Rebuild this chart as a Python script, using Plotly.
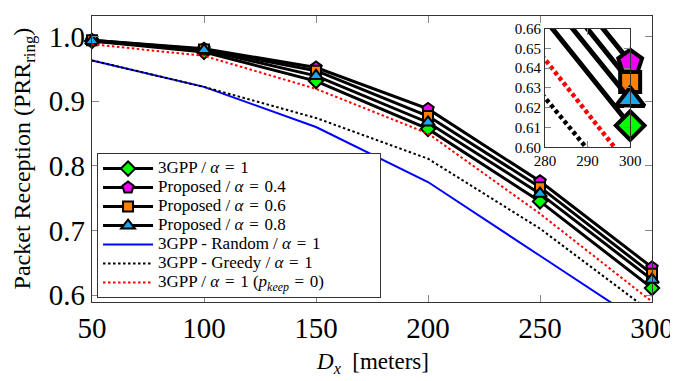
import plotly.graph_objects as go

# ---- data ----
dx = [50, 100, 150, 200, 250, 300]
gpp_a1 = [0.993, 0.976, 0.931, 0.857, 0.745, 0.611]
prop_04 = [0.994, 0.981, 0.952, 0.888, 0.776, 0.643]
prop_06 = [0.994, 0.980, 0.947, 0.877, 0.767, 0.633]
prop_08 = [0.993, 0.979, 0.939, 0.867, 0.757, 0.624]
gpp_random = [0.963, 0.922, 0.860, 0.775, 0.661, 0.547]
gpp_greedy = [0.963, 0.922, 0.874, 0.811, 0.703, 0.573]
gpp_pkeep0 = [0.988, 0.970, 0.919, 0.850, 0.726, 0.590]

SP = "\u2004"  # math-like spacing around '='
names = [
    f"3GPP / <i>α</i>{SP}={SP}1",
    f"Proposed / <i>α</i>{SP}={SP}0.4",
    f"Proposed / <i>α</i>{SP}={SP}0.6",
    f"Proposed / <i>α</i>{SP}={SP}0.8",
    f"3GPP - Random / <i>α</i>{SP}={SP}1",
    f"3GPP - Greedy / <i>α</i>{SP}={SP}1",
    f"3GPP / <i>α</i>{SP}={SP}1 (<i>p<sub>keep</sub></i>{SP}={SP}0)\u2003\u2003\u2003",
]

SERIF = "Liberation Serif"

marker_series = [
    (gpp_a1, names[0], "diamond", "#00FF00", 11, 22),
    (prop_04, names[1], "pentagon", "#F000F0", 12, 25),
    (prop_06, names[2], "square", "#FF8000", 10, 20),
    (prop_08, names[3], "triangle-up", "#1AA7EC", 12, 25),
]
line_series = [
    (gpp_random, names[4], "#0000FF", "solid"),
    (gpp_greedy, names[5], "#000000", "2.5px,2.5px"),
    (gpp_pkeep0, names[6], "#FF0000", "2.5px,2.5px"),
]


def big(t):
    return f'<span style="font-size:17px">{t}</span>'


fig = go.Figure()

# main plot
for ys, nm, sym, col, sz, _ in marker_series:
    fig.add_trace(go.Scatter(
        x=dx, y=ys, name=big(nm), mode="lines+markers",
        line=dict(color="black", width=3),
        marker=dict(symbol=sym, color=col, size=sz, line=dict(color="black", width=2)),
        cliponaxis=False, xaxis="x", yaxis="y"))
for ys, nm, col, dash in line_series:
    fig.add_trace(go.Scatter(
        x=dx, y=ys, name=big(nm), mode="lines",
        line=dict(color=col, width=2, dash=dash),
        xaxis="x", yaxis="y"))

# inset
for ys, nm, col, dash in line_series:
    fig.add_trace(go.Scatter(
        x=dx, y=ys, mode="lines", showlegend=False,
        line=dict(color=col, width=4.5, dash="4px,3px" if dash != "solid" else "solid"),
        xaxis="x2", yaxis="y2"))
for ys, nm, sym, col, _, szi in marker_series:
    fig.add_trace(go.Scatter(
        x=dx, y=ys, mode="lines+markers", showlegend=False,
        line=dict(color="black", width=5),
        marker=dict(symbol=sym, color=col, size=szi, line=dict(color="black", width=4)),
        cliponaxis=False, xaxis="x2", yaxis="y2"))

axis_common = dict(showline=True, linecolor="#333333", linewidth=1.2, mirror="ticks",
                   ticks="inside", tickcolor="#888888", showgrid=False, zeroline=False)

fig.update_layout(
    width=670, height=373,
    margin=dict(l=84, r=26, t=0, b=79),
    paper_bgcolor="white", plot_bgcolor="white",
    font=dict(family=SERIF, color="black"),
    xaxis=dict(range=[50, 300], tickvals=[50, 100, 150, 200, 250, 300],
               tickfont=dict(size=29, family=SERIF), ticklen=7, domain=[0, 1], **axis_common),
    yaxis=dict(range=[0.5895, 1.0316], tickvals=[0.6, 0.7, 0.8, 0.9, 1.0],
               ticktext=["0.6", "0.7", "0.8", "0.9", "1.0"],
               tickfont=dict(size=29, family=SERIF), ticklen=7, domain=[0, 1], **axis_common),
    xaxis2=dict(range=[280, 300], tickvals=[280, 290, 300], anchor="y2",
                domain=[0.809, 0.961], tickfont=dict(size=15, family=SERIF), ticklen=6,
                **axis_common),
    yaxis2=dict(range=[0.60, 0.66], tickvals=[0.60, 0.61, 0.62, 0.63, 0.64, 0.65, 0.66],
                tickformat=".2f", anchor="x2",
                domain=[0.541, 0.956], tickfont=dict(size=15, family=SERIF), ticklen=6,
                **axis_common),
    legend=dict(x=0.009, y=0.0136, xanchor="left", yanchor="bottom",
                bgcolor="white", bordercolor="#333333", borderwidth=1,
                font=dict(size=12, family=SERIF), tracegroupgap=0,
                itemwidth=50,
                traceorder="normal"),
    showlegend=True,
)

fig.add_annotation(text="Packet Reception (PRR<sub>ring</sub>)", xref="paper", yref="paper",
                   x=-0.121, y=0.503, xanchor="center", yanchor="middle", textangle=-90,
                   showarrow=False, font=dict(size=24, family=SERIF))
fig.add_annotation(text="<i>D<sub>x</sub></i>  [meters]", xref="paper", yref="paper",
                   x=0.5, y=-0.214, xanchor="center", yanchor="middle",
                   showarrow=False, font=dict(size=23, family=SERIF))

fig.write_html("out.html")
